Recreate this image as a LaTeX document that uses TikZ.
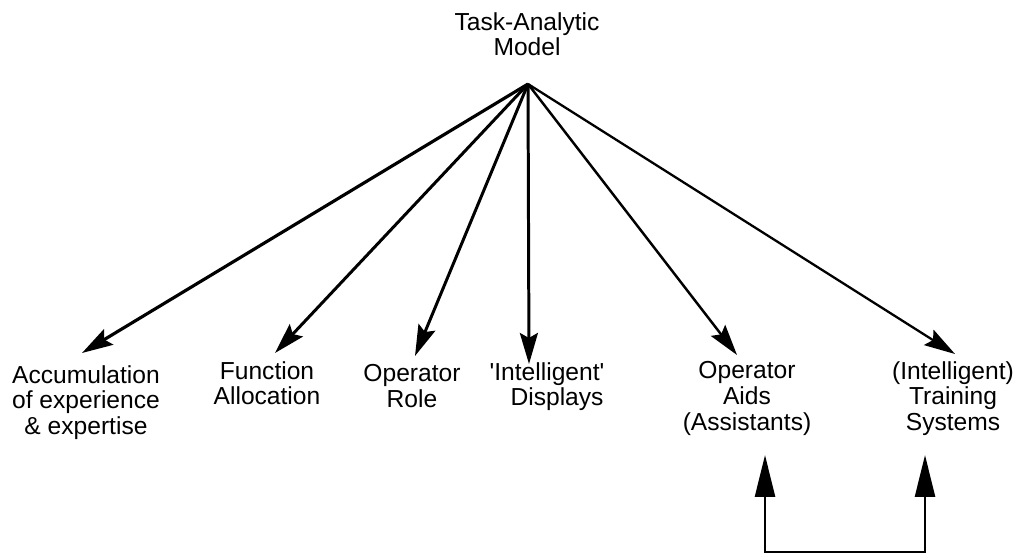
\documentclass[tikz,border=0pt]{standalone}
\usepackage{fontspec}
\setmainfont{Liberation Sans}
\usetikzlibrary{arrows.meta}

\begin{document}
\begin{tikzpicture}[x=0.02cm, y=-0.02cm, line width=1.5pt,
  lbl/.style={align=center, inner sep=0pt, anchor=north,
    font=\fontsize{14}{14.7}\selectfont},
  spoke/.style={-{Stealth[length=0.62cm, width=0.36cm, inset=0.1cm]}},
  backarrow/.style={{Triangle[length=0.84cm, width=0.4cm]}-{Triangle[length=0.84cm, width=0.4cm]}}]

\useasboundingbox (0,0) rectangle (1013,557);

% Model at the top and the point the spokes leave from
\node[lbl] (model) at (527,11) {Task-Analytic\\Model};
\coordinate (hub) at (528,84);

% Things the model feeds into
\node[lbl] (accum) at (86,364) {Accumulation\\of experience\\\& expertise};
\node[lbl] (alloc) at (267,360) {Function\\Allocation};
\node[lbl] (role) at (412,363) {Operator\\Role};
\node[lbl, align=left] (disp) at (547,361)
  {\textquotesingle Intelligent\textquotesingle\\\hspace*{0.85em}Displays};
\node[lbl] (aids) at (747,360) {Operator\\Aids\\(Assistants)};
\node[lbl] (train) at (953,360) {(Intelligent)\\Training\\Systems};

% Where the arrow heads stop
\coordinate (accumTip) at (82,353);
\coordinate (allocTip) at (275,353);
\coordinate (roleTip) at (415,356);
\coordinate (dispTip) at (529,364);
\coordinate (aidsTip) at (737,355);
\coordinate (trainTip) at (955,354);

% Spokes
\draw[spoke, line width=1.8pt] (hub) -- (accumTip);
\draw[spoke, line width=1.7pt] (hub) -- (allocTip);
\draw[spoke, line width=1.7pt] (hub) -- (roleTip);
\draw[spoke, line width=1.7pt] (hub) -- (dispTip);
\draw[spoke, line width=1.4pt] (hub) -- (aidsTip);
\draw[spoke, line width=1.3pt] (hub) -- (trainTip);

% Link between aids and training
\coordinate (aidsIn) at (765,455);
\coordinate (trainIn) at (925,455);
\draw[backarrow, line width=1.5pt] (aidsIn) -- ++(0,97) -| (trainIn);

\end{tikzpicture}
\end{document}
